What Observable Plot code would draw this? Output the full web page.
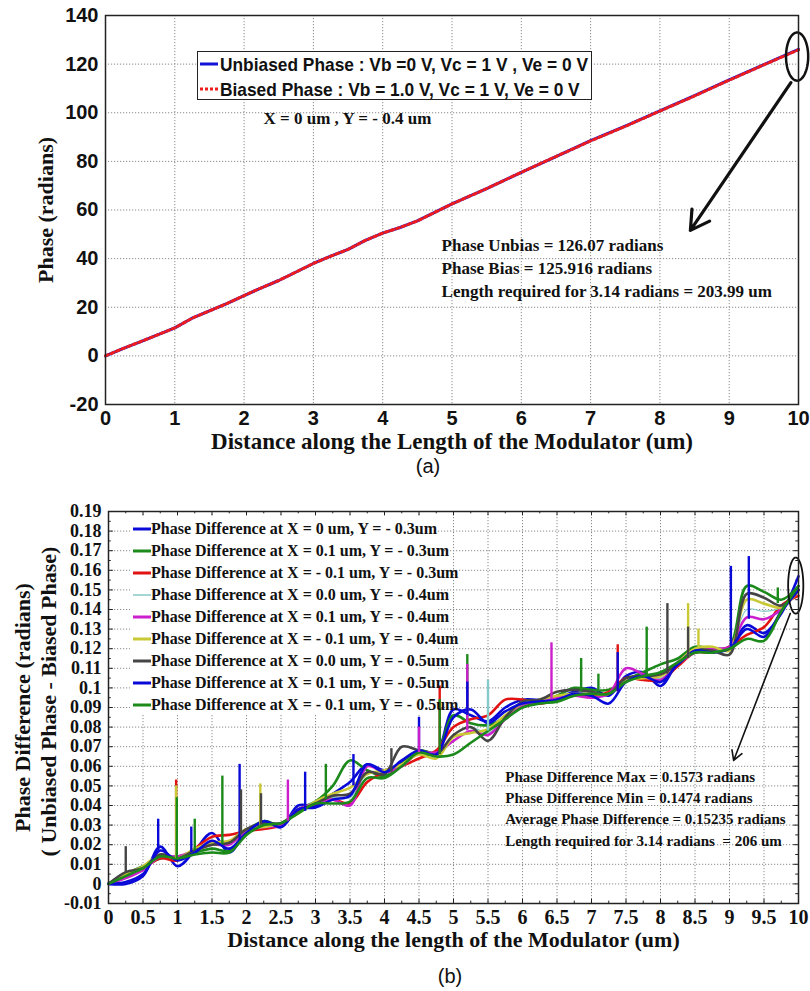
<!DOCTYPE html>
<html><head><meta charset="utf-8">
<script src="https://cdn.jsdelivr.net/npm/d3@7"></script>
<script src="https://cdn.jsdelivr.net/npm/@observablehq/plot@0.6"></script>
<style>
body{margin:0;background:#fff;width:810px;height:991px;position:relative;overflow:hidden}
.abs{position:absolute}
.cap{position:absolute;font-family:"Liberation Sans",Arial,sans-serif;font-size:20px;color:#111;width:60px;text-align:center}
.leg{position:absolute;background:#fff}
.row{position:absolute;left:0;height:22px;line-height:22px;white-space:nowrap;color:#111}
.row svg{position:absolute;top:0}
.row span{position:absolute;transform-origin:left center}
</style></head><body>
<div id="a" class="abs" style="left:0;top:0"></div>
<div class="cap" style="left:398px;top:455px">(a)</div>
<div id="b" class="abs" style="left:0;top:480px"></div>
<div class="cap" style="left:420px;top:965px">(b)</div>
<div id="legA" class="leg" style="left:197px;top:51px;width:393px;height:47px;border:1.5px solid #222"></div>
<div id="legB" class="leg" style="left:130px;top:516px;width:307px;height:198px"></div>
<script>
const sans = '"Liberation Sans",Arial,sans-serif';
const serif = '"Liberation Serif","Times New Roman",serif';

// ---------- Chart (a) data ----------
const xsA = [0,0.25,0.5,0.75,1,1.25,1.5,1.75,2,2.25,2.5,2.75,3,3.25,3.5,3.75,4,4.25,4.5,4.75,5,5.5,6,6.5,7,7.5,8,8.5,9,9.5,10];
const unbiasedA = [0,3,5.8,8.6,11.5,15.5,18.5,21.5,24.8,28,31,34.5,38,41,43.8,47.5,50.5,52.8,55.5,59,62.5,68.8,75.5,82,88.5,94.5,100.8,107,113.5,119.8,126.07];
const biasedA   = [0,3,5.8,8.6,11.5,15.5,18.5,21.5,24.8,28,31,34.5,38,41,43.8,47.5,50.5,52.8,55.5,59,62.5,68.8,75.5,82,88.4,94.4,100.7,106.9,113.4,119.7,125.916];
const xTicksA = [0,1,2,3,4,5,6,7,8,9,10];
const yTicksA = [-20,0,20,40,60,80,100,120,140];
const legendLabelsA = ["Unbiased Phase : Vb =0 V, Vc = 1 V , Ve = 0 V","Biased Phase : Vb = 1.0 V, Vc = 1 V, Ve = 0 V"];
const noteA = ["Phase Unbias = 126.07 radians","Phase Bias = 125.916 radians","Length required for 3.14 radians = 203.99 um"];
const noteAPos = {x:4.85, y:[45.4,35.9,26.5]};
const subA = {text:"X = 0 um , Y = - 0.4 um", x:2.28, y:97.6};
const ellipseA = {cx:9.98, cy:123.1, rx:0.16, ry:9.9};
const arrowA = [{x1:9.89, y1:112.4, x2:8.44, y2:51.6}];

// ---------- Chart (b) data ----------
const xsB = [0,0.25,0.5,0.75,1,1.25,1.5,1.75,2,2.25,2.5,2.75,3,3.25,3.5,3.75,4,4.25,4.5,4.75,5,5.25,5.5,5.75,6,6.25,6.5,6.75,7,7.25,7.5,7.75,8,8.25,8.5,8.75,9,9.25,9.5,9.75,10];
const s1 = [0,0.000,0.004,0.019,0.009,0.017,0.026,0.016,0.027,0.031, 0.029,0.040,0.040,0.046,0.052,0.061,0.058,0.062,0.068,0.067, 0.089,0.086,0.083,0.090,0.094,0.094,0.095,0.098,0.100,0.096, 0.106,0.108,0.101,0.113,0.120,0.119,0.121,0.132,0.128,0.138, 0.157];
const s2 = [0,0.005,0.009,0.013,0.014,0.016,0.018,0.017,0.027,0.032, 0.030,0.038,0.042,0.050,0.063,0.058,0.055,0.061,0.068,0.067, 0.086,0.082,0.081,0.085,0.091,0.093,0.096,0.100,0.099,0.099, 0.104,0.108,0.112,0.115,0.121,0.120,0.121,0.152,0.149,0.145, 0.152];
const s3 = [0,0.005,0.008,0.013,0.012,0.018,0.024,0.025,0.027,0.028, 0.030,0.037,0.041,0.043,0.041,0.052,0.057,0.060,0.064,0.068, 0.080,0.084,0.086,0.094,0.094,0.092,0.094,0.096,0.096,0.098, 0.105,0.104,0.104,0.111,0.118,0.118,0.121,0.127,0.131,0.142, 0.147];
const s4 = [0,0.004,0.007,0.014,0.013,0.018,0.020,0.021,0.028,0.030, 0.030,0.037,0.042,0.044,0.044,0.056,0.057,0.061,0.066,0.066, 0.076,0.080,0.077,0.085,0.092,0.093,0.095,0.097,0.097,0.097, 0.105,0.106,0.105,0.112,0.119,0.119,0.120,0.140,0.139,0.141, 0.150];
const s5 = [0,0.003,0.007,0.014,0.014,0.017,0.020,0.020,0.027,0.029, 0.030,0.038,0.041,0.043,0.040,0.060,0.057,0.060,0.067,0.067, 0.073,0.078,0.076,0.084,0.091,0.093,0.095,0.096,0.095,0.097, 0.110,0.107,0.104,0.112,0.118,0.120,0.121,0.136,0.135,0.140, 0.150];
const s6 = [0,0.005,0.009,0.015,0.013,0.018,0.021,0.022,0.028,0.029, 0.031,0.036,0.042,0.046,0.049,0.056,0.058,0.061,0.066,0.064, 0.075,0.077,0.079,0.086,0.092,0.094,0.096,0.097,0.097,0.097, 0.104,0.105,0.106,0.113,0.120,0.121,0.119,0.145,0.143,0.141, 0.150];
const s7 = [0,0.006,0.008,0.015,0.013,0.017,0.020,0.021,0.028,0.031, 0.031,0.037,0.041,0.045,0.046,0.057,0.056,0.070,0.068,0.066, 0.076,0.080,0.073,0.085,0.093,0.094,0.098,0.099,0.098,0.097, 0.105,0.106,0.107,0.112,0.119,0.119,0.117,0.148,0.146,0.142, 0.150];
const s8 = [0,0.001,0.005,0.017,0.012,0.016,0.022,0.018,0.026,0.032, 0.029,0.038,0.039,0.043,0.045,0.061,0.057,0.063,0.068,0.066, 0.085,0.089,0.082,0.088,0.092,0.093,0.094,0.097,0.096,0.092, 0.103,0.106,0.103,0.112,0.119,0.118,0.120,0.130,0.126,0.139, 0.150];
const s9 = [0,0.004,0.008,0.014,0.013,0.015,0.016,0.016,0.025,0.030, 0.031,0.036,0.041,0.041,0.042,0.054,0.054,0.060,0.067,0.065, 0.066,0.072,0.078,0.084,0.090,0.092,0.093,0.096,0.097,0.097, 0.103,0.106,0.108,0.113,0.118,0.118,0.120,0.125,0.124,0.139, 0.152];
const seriesB = [s1,s2,s3,s4,s5,s6,s7,s8,s9];
const labelsB = ["Phase Difference at X = 0 um, Y = - 0.3um","Phase Difference at X = 0.1 um, Y = - 0.3um","Phase Difference at X = - 0.1 um, Y = - 0.3um","Phase Difference at X = 0.0 um, Y = - 0.4um","Phase Difference at X = 0.1 um, Y = - 0.4um","Phase Difference at X = - 0.1 um, Y = - 0.4um","Phase Difference at X = 0.0 um, Y = - 0.5um","Phase Difference at X = 0.1 um, Y = - 0.5um","Phase Difference at X = - 0.1 um, Y = - 0.5um"];
const colorsB = ["#0a0ad8","#1b8a1b","#e31212","#86c9c9","#cc1fcc","#c9c935","#454545","#0a0ad8","#1b8a1b"];
const widthsB = [2.6,2.6,2.6,1.2,2.6,2.6,2.6,2.6,2.6];
// spikes: series index, x, base, top
const spikeS    = [6,0,2,5,8,1,0,1,0,6,5,6,4,0,1,0,6,7,4,2,1,1,4,0,3,4,1,1,2,0,1,6,5,6,5,0,0,1];
const spikeX    = [0.25,0.72,0.98,0.98,0.99,1.25,1.2,1.65,1.9,1.92,2.2,2.21,2.6,2.85,3.15,3.55,4.1,4.5,4.5,4.8,4.8,5.2,5.2,5.2,5.5,6.42,6.85,7.1,7.38,7.38,7.8,8.1,8.4,8.4,8.55,9.02,9.28,9.7];
const spikeBase = [0.006,0.017,0.013,0.013,0.013,0.017,0.016,0.020,0.022,0.025,0.030,0.030,0.032,0.037,0.043,0.050,0.057,0.068,0.067,0.066,0.066,0.082,0.078,0.086,0.078,0.094,0.098,0.099,0.098,0.098,0.106,0.107,0.115,0.115,0.120,0.121,0.135,0.143];
const spikeTop  = [0.019,0.033,0.053,0.050,0.044,0.033,0.029,0.055,0.061,0.048,0.051,0.046,0.053,0.057,0.061,0.066,0.069,0.085,0.080,0.101,0.094,0.117,0.112,0.103,0.104,0.123,0.115,0.107,0.122,0.118,0.131,0.143,0.143,0.131,0.130,0.162,0.167,0.151];
const xTicksB = [0,0.5,1,1.5,2,2.5,3,3.5,4,4.5,5,5.5,6,6.5,7,7.5,8,8.5,9,9.5,10];
const yTicksB = [-0.01,0,0.01,0.02,0.03,0.04,0.05,0.06,0.07,0.08,0.09,0.1,0.11,0.12,0.13,0.14,0.15,0.16,0.17,0.18,0.19];
const noteB = ["Phase Difference Max = 0.1573 radians","Phase Difference Min = 0.1474 radians","Average Phase Difference = 0.15235 radians","Length required for 3.14 radians  = 206 um"];
const noteBPos = {x:5.75, y:[0.0546,0.0439,0.0332,0.0219]};
const ellipseB = {cx:9.96, cy:0.1522, rx:0.11, ry:0.0143};
const arrowB = [{x1:9.88, y1:0.138, x2:9.06, y2:0.063}];

const ellipsePts = e => d3.range(0, 73).map(i => { const t = i/72*2*Math.PI; return {x: e.cx + e.rx*Math.cos(t), y: e.cy + e.ry*Math.sin(t)}; });
const gridStyle = {stroke:"#8a8a8a", strokeOpacity:1, strokeDasharray:"1.2,1.8", strokeWidth:1};

// ---------- Plot (a) ----------
const dataA = xsA.map((x,i)=>({x, u:unbiasedA[i], b:biasedA[i]}));
const plotA = Plot.plot({
  width:810, height:458, marginLeft:105, marginRight:12, marginTop:15, marginBottom:54,
  style:{background:"transparent", color:"#111", overflow:"visible"},
  x:{domain:[0,10]}, y:{domain:[-20,140]},
  marks:[
    Plot.gridX(xTicksA, gridStyle),
    Plot.gridY(yTicksA, gridStyle),
    Plot.line(dataA, {x:"x", y:"u", stroke:"#1212d8", strokeWidth:3}),
    Plot.line(dataA, {x:"x", y:"b", stroke:"#ee1c1c", strokeWidth:3, strokeDasharray:"3,3"}),
    Plot.text([subA], {x:"x", y:"y", text:"text", textAnchor:"start", fontFamily:serif, fontWeight:"bold", fontSize:17, fill:"#111"}),
    Plot.text(noteA, {x:()=>noteAPos.x, y:(d,i)=>noteAPos.y[i], text:d=>d, textAnchor:"start", fontFamily:serif, fontWeight:"bold", fontSize:17, fill:"#111"}),
    Plot.line(ellipsePts(ellipseA), {x:"x", y:"y", stroke:"#111", strokeWidth:2.5}),
    Plot.arrow(arrowA, {x1:"x1", y1:"y1", x2:"x2", y2:"y2", stroke:"#111", strokeWidth:3.2, headLength:10}),
    Plot.frame({stroke:"#222", strokeWidth:1.5}),
    Plot.axisX(xTicksA, {tickSize:0, tickPadding:6, tickFormat:d=>String(d), fontSize:20, fontFamily:sans, fontWeight:"bold", label:null}),
    Plot.axisY(yTicksA, {tickSize:0, tickPadding:7, tickFormat:d=>String(d), fontSize:20, fontFamily:sans, fontWeight:"bold", label:null}),
    Plot.text(["Distance along the Length of the Modulator (um)"], {frameAnchor:"bottom", dy:44, fontFamily:serif, fontWeight:"bold", fontSize:23, fill:"#111"}),
    Plot.text(["Phase (radians)"], {frameAnchor:"left", dx:-60, rotate:-90, textAnchor:"middle", fontFamily:serif, fontWeight:"bold", fontSize:22, fill:"#111"})
  ]
});
document.getElementById("a").appendChild(plotA);

// ---------- Plot (b) ----------
const minorX = d3.range(0, 41).map(i => i*0.25);
const minorY = d3.range(0, 41).map(i => -0.01 + i*0.005);
const spikes = spikeX.map((x,i)=>({x, y1:spikeBase[i], y2:spikeTop[i], c:colorsB[spikeS[i]]}));
const lineMarks = seriesB.map((ys,k)=>Plot.line(xsB.map((x,i)=>({x, y:ys[i]})), {x:"x", y:"y", stroke:colorsB[k], strokeWidth:widthsB[k], strokeLinejoin:"round", curve:"catmull-rom"}));
const plotB = Plot.plot({
  width:810, height:481, marginLeft:108, marginRight:12, marginTop:31, marginBottom:58,
  style:{background:"transparent", color:"#111", overflow:"visible"},
  x:{domain:[0,10]}, y:{domain:[-0.01,0.19]},
  marks:[
    Plot.gridX(xTicksB, gridStyle),
    Plot.gridY(yTicksB, gridStyle),
    Plot.ruleX(minorX, {y1:-0.01, y2:(d,i)=> -0.01 + (i%2===0?0.0022:0.0012), stroke:"#222"}),
    Plot.ruleX(minorX, {y1:0.19, y2:(d,i)=> 0.19 - (i%2===0?0.0022:0.0012), stroke:"#222"}),
    Plot.ruleY(minorY, {x1:0, x2:(d,i)=> i%2===0?0.07:0.04, stroke:"#222"}),
    Plot.ruleY(minorY, {x1:10, x2:(d,i)=> 10-(i%2===0?0.07:0.04), stroke:"#222"}),
    ...lineMarks,
    Plot.ruleX(spikes, {x:"x", y1:"y1", y2:"y2", stroke:"c", strokeWidth:2.4}),
    Plot.text(noteB, {x:()=>noteBPos.x, y:(d,i)=>noteBPos.y[i], text:d=>d, textAnchor:"start", fontFamily:serif, fontWeight:"bold", fontSize:15, fill:"#111"}),
    Plot.line(ellipsePts(ellipseB), {x:"x", y:"y", stroke:"#111", strokeWidth:1.8}),
    Plot.arrow(arrowB, {x1:"x1", y1:"y1", x2:"x2", y2:"y2", stroke:"#111", strokeWidth:1.6, headLength:10}),
    Plot.frame({stroke:"#222", strokeWidth:1.5}),
    Plot.axisX(xTicksB, {tickSize:0, tickPadding:6, tickFormat:d=>String(d), fontSize:20, fontFamily:serif, fontWeight:"bold", label:null}),
    Plot.axisY(yTicksB, {tickSize:0, tickPadding:7, tickFormat:d=>String(d), fontSize:18, fontFamily:serif, fontWeight:"bold", label:null}),
    Plot.text(["Distance along the length of the Modulator (um)"], {frameAnchor:"bottom", dy:43, fontFamily:serif, fontWeight:"bold", fontSize:22, fill:"#111"}),
    Plot.text(["Phase Difference (radians)"], {frameAnchor:"left", dx:-86, rotate:-90, textAnchor:"middle", fontFamily:serif, fontWeight:"bold", fontSize:22, fill:"#111"}),
    Plot.text(["( Unbiased Phase - Biased Phase)"], {frameAnchor:"left", dx:-60, dy:-6, rotate:-90, textAnchor:"middle", fontFamily:serif, fontWeight:"bold", fontSize:22, fill:"#111"})
  ]
});
document.getElementById("b").appendChild(plotB);

// ---------- Legends ----------
const legA = document.getElementById("legA");
const legAStyles = [{c:"#1212d8", dash:null}, {c:"#ee1c1c", dash:"3,2"}];
const spansA = [];
legendLabelsA.forEach((t,i)=>{
  const r = document.createElement("div");
  r.className = "row"; r.style.top = (2 + 25*i) + "px"; r.style.width = "390px";
  r.style.fontFamily = sans; r.style.fontWeight = "bold"; r.style.fontSize = "19px";
  r.innerHTML = `<svg width="20" height="22" style="left:1px"><line x1="1" x2="19" y1="10" y2="10" stroke="${legAStyles[i].c}" stroke-width="3" ${legAStyles[i].dash?`stroke-dasharray="${legAStyles[i].dash}"`:""}/></svg><span style="left:22px">${t}</span>`;
  legA.appendChild(r);
  spansA.push(r.querySelector("span"));
});
const fA = 368 / spansA[0].getBoundingClientRect().width;
spansA.forEach(s => s.style.transform = `scaleX(${fA})`);

const legB = document.getElementById("legB");
labelsB.forEach((t,i)=>{
  const r = document.createElement("div");
  r.className = "row"; r.style.top = (2 + 22*i) + "px"; r.style.width = "307px";
  r.style.fontFamily = serif; r.style.fontWeight = "bold"; r.style.fontSize = "16px";
  r.innerHTML = `<svg width="20" height="22" style="left:2px"><line x1="1" x2="19" y1="11" y2="11" stroke="${colorsB[i]}" stroke-width="${widthsB[i]===1.2?1.5:3}"/></svg><span style="left:21px">${t}</span>`;
  legB.appendChild(r);
});
</script>
</body></html>
